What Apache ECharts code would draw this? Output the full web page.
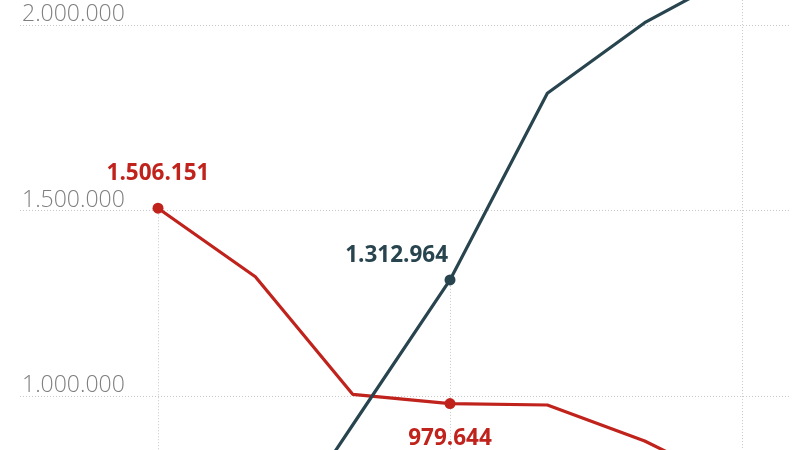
<!DOCTYPE html>
<html>
<head>
<meta charset="utf-8">
<style>
  html, body { margin: 0; padding: 0; background: #fff; }
  #chart { width: 800px; height: 450px; }
</style>
<script src="https://cdn.jsdelivr.net/npm/echarts@6/dist/echarts.min.js"></script>
</head>
<body>
<div id="chart"></div>
<script>
// data points, one per period (x axis sits below the visible crop)
var periods = [0, 1, 2, 3, 4, 5, 6];
var redValues = [1506151, 1321500, 1004500, 979644, 975700, 878700, 749300];
var blueValues = [420000, 530000, 921800, 1312964, 1815900, 2006200, 2148000];
var yTicks = [0, 500000, 1000000, 1500000, 2000000, 2500000];

// points that carry a dot, a value label and a drop line
var redMarked = [0, 3];
var blueMarked = [3, 6];
var redDrop = [0];
var blueDrop = [3, 6];

var RED = '#c0221c';
var BLUE = '#28444f';
var GRID = '#c9c9c9';

function fmt(v) {
    return String(Math.round(v)).replace(/\B(?=(\d{3})+(?!\d))/g, '.');
}

function pairs(values) {
    return periods.map(function (p, i) { return [p, values[i]]; });
}

function drops(values, idx) {
    return idx.map(function (i) {
        return [{ coord: [periods[i], values[i]] }, { coord: [periods[i], yTicks[0]] }];
    });
}

var chart = echarts.init(document.getElementById('chart'));

var option = {
    animation: false,
    backgroundColor: '#fff',
    grid: {
        left: 20,
        right: 10,
        top: -160.5,
        bottom: -317,
        outerBoundsMode: 'none'
    },
    xAxis: {
        type: 'value',
        min: -1.418,
        max: 6.493,
        axisLine: { show: false },
        axisTick: { show: false },
        axisLabel: { show: false },
        splitLine: { show: false }
    },
    yAxis: {
        type: 'value',
        min: yTicks[0],
        max: yTicks[yTicks.length - 1],
        interval: 500000,
        axisLine: { show: false },
        axisTick: { show: false },
        splitLine: {
            show: true,
            lineStyle: { color: GRID, type: [1, 2], width: 1 }
        },
        axisLabel: {
            inside: true,
            margin: 2,
            verticalAlign: 'bottom',
            padding: [0, 0, -1, 0],
            color: '#7f7f7f',
            fontFamily: 'Open Sans',
            fontWeight: 300,
            fontSize: 23,
            formatter: fmt
        }
    },
    series: [
        {
            name: 'red',
            type: 'line',
            data: pairs(redValues),
            z: 3,
            color: RED,
            lineStyle: { color: RED, width: 3.2 },
            symbol: 'circle',
            symbolSize: function (v, p) { return redMarked.indexOf(p.dataIndex) >= 0 ? 11 : 0; },
            itemStyle: { color: RED, borderWidth: 0 },
            label: {
                show: true,
                fontFamily: 'Open Sans',
                fontWeight: 700,
                fontSize: 22.5,
                color: RED,
                formatter: function (p) {
                    return redMarked.indexOf(p.dataIndex) >= 0 ? fmt(p.value[1]) : '';
                },
                position: 'top',
                distance: 18
            },
            labelLayout: function (p) {
                if (p.dataIndex === 3) {
                    return { dy: 70 };
                }
                return {};
            },
            markLine: {
                silent: true,
                z: 1,
                symbol: 'none',
                label: { show: false },
                lineStyle: { color: GRID, type: [1, 2], width: 1 },
                data: drops(redValues, redDrop)
            }
        },
        {
            name: 'blue',
            type: 'line',
            data: pairs(blueValues),
            z: 4,
            color: BLUE,
            lineStyle: { color: BLUE, width: 3.2 },
            symbol: 'circle',
            symbolSize: function (v, p) { return blueMarked.indexOf(p.dataIndex) >= 0 ? 11 : 0; },
            itemStyle: { color: BLUE, borderWidth: 0 },
            label: {
                show: true,
                fontFamily: 'Open Sans',
                fontWeight: 700,
                fontSize: 22.5,
                color: BLUE,
                formatter: function (p) {
                    return blueMarked.indexOf(p.dataIndex) >= 0 ? fmt(p.value[1]) : '';
                },
                position: 'top',
                align: 'right',
                distance: 7,
                offset: [-2, 0]
            },
            markLine: {
                silent: true,
                z: 1,
                symbol: 'none',
                label: { show: false },
                lineStyle: { color: GRID, type: [1, 2], width: 1 },
                data: drops(blueValues, blueDrop)
            }
        }
    ]
};

chart.setOption(option);
</script>
</body>
</html>
